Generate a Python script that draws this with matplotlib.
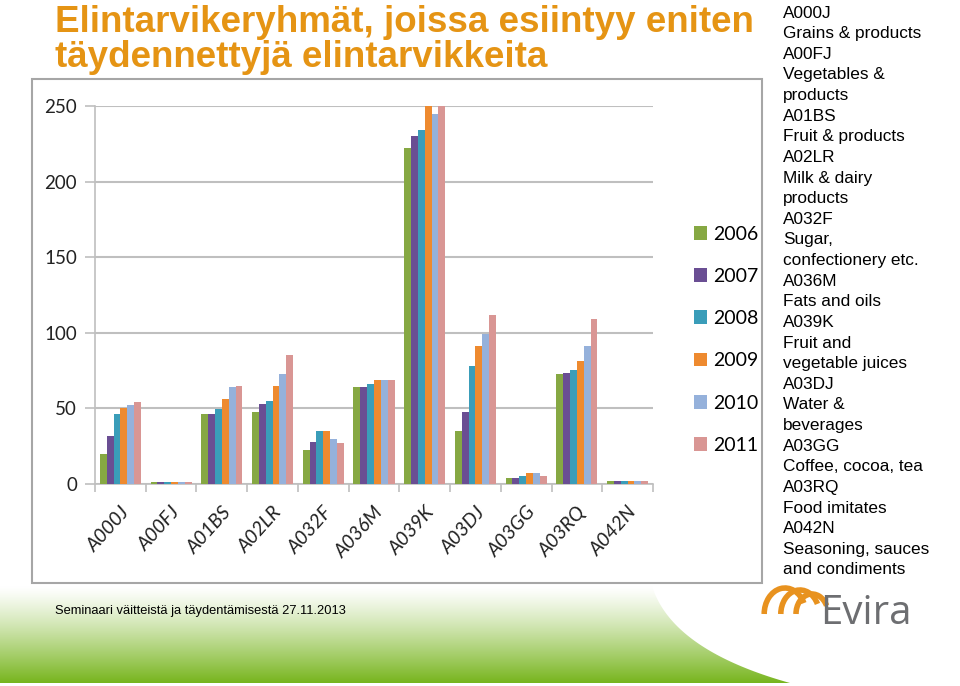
import numpy as np
import matplotlib
matplotlib.use('Agg')
import matplotlib.pyplot as plt
from matplotlib.patches import Rectangle, Polygon, Patch, Arc

# data
categories = ['A000J', 'A00FJ', 'A01BS', 'A02LR', 'A032F', 'A036M',
              'A039K', 'A03DJ', 'A03GG', 'A03RQ', 'A042N']
years = ['2006', '2007', '2008', '2009', '2010', '2011']
v2006 = [20, 1, 46, 47.5, 22.5, 64, 222, 35, 4, 73, 2]
v2007 = [32, 1, 46, 53, 27.5, 64, 230, 47.5, 4, 73.5, 2]
v2008 = [46, 1, 49.5, 55, 35, 66, 234, 78, 5.5, 75.5, 2]
v2009 = [50.5, 1, 56.5, 65, 35, 69, 250, 91, 7, 81.5, 2]
v2010 = [52, 1, 64, 73, 30, 69, 245, 99.5, 7, 91, 2]
v2011 = [54, 1, 65, 85, 27, 69, 250, 112, 5.5, 109, 2]
series = [v2006, v2007, v2008, v2009, v2010, v2011]
colours = ['#86A843', '#6A4E93', '#3A9DB9', '#EE8A2F', '#95B1DB', '#D99694']

side_notes = [
    'A000J', 'Grains & products', 'A00FJ', 'Vegetables &', 'products',
    'A01BS', 'Fruit & products', 'A02LR', 'Milk & dairy', 'products',
    'A032F', 'Sugar,', 'confectionery etc.', 'A036M', 'Fats and oils',
    'A039K', 'Fruit and', 'vegetable juices', 'A03DJ', 'Water &',
    'beverages', 'A03GG', 'Coffee, cocoa, tea', 'A03RQ', 'Food imitates',
    'A042N', 'Seasoning, sauces', 'and condiments',
]

W, H = 960, 686


def fx(px):
    return px / W


def fy(py):
    return 1 - py / H


fig = plt.figure(figsize=(9.6, 6.86), dpi=100)

# green gradient band at the bottom of the slide
bg = fig.add_axes([0, fy(683), 1, (683 - 586) / H], zorder=-5)
grad = np.linspace(0, 1, 100)[:, None]
green = np.array([0.47, 0.71, 0.12])
img = (1 - grad[..., None] ** 1.2) * 1.0 + grad[..., None] ** 1.2 * green
img = np.repeat(img, 2, axis=1)
bg.imshow(img, extent=[0, W, 683, 586], aspect='auto')
t = np.linspace(0, 1, 50)
cx = (1 - t) ** 2 * 652 + 2 * (1 - t) * t * 672 + t ** 2 * 790
cy = (1 - t) ** 2 * 586 + 2 * (1 - t) * t * 650 + t ** 2 * 683
pts = np.column_stack([np.r_[cx, W, W], np.r_[cy, 683, 586]])
bg.add_patch(Polygon(pts, closed=True, color='white', lw=0))
bg.set_xlim(0, W)
bg.set_ylim(683, 586)
bg.axis('off')

# chart frame
fig.patches.append(Rectangle((fx(32), fy(583)), (762 - 32) / W, (583 - 79) / H,
                             transform=fig.transFigure, fill=True,
                             facecolor='white', edgecolor='#A6A6A6', lw=1.5,
                             zorder=-1))

ax = fig.add_axes([fx(95), fy(484), (653 - 95) / W, (484 - 106) / H])
x = np.arange(len(categories))
w = 0.135
for j, (vals, col) in enumerate(zip(series, colours)):
    ax.bar(x + (j - 2.5) * w, vals, width=w, color=col, zorder=3,
           label=years[j])

ax.set_xlim(-0.5, len(categories) - 0.5)
ax.set_ylim(0, 250)
ax.set_yticks([0, 50, 100, 150, 200, 250])
ax.yaxis.grid(True, color='#BFBFBF', lw=1.5, zorder=0)
for s in ['top', 'right']:
    ax.spines[s].set_visible(False)
for s in ['left', 'bottom']:
    ax.spines[s].set_color('#BFBFBF')
    ax.spines[s].set_linewidth(1.2)
ax.set_xticks(np.arange(len(categories) + 1) - 0.5)
ax.set_xticklabels([])
ax.set_xticks(x, minor=True)
ax.set_xticklabels(categories, minor=True, rotation=48, ha='right',
                   rotation_mode='anchor', fontsize=14, family='Lato',
                   style='italic', color='#222222')
ax.tick_params(axis='x', which='major', length=6, color='#BFBFBF', width=1.2)
ax.tick_params(axis='x', which='minor', length=0, pad=14)
ax.tick_params(axis='y', length=7, color='#BFBFBF', width=1.2,
               labelsize=13.5, labelcolor='#222222', pad=6)
for lab in ax.get_yticklabels():
    lab.set_family('Lato')
ax.set_facecolor('none')

handles = [Patch(facecolor=c, edgecolor='none') for c in colours]
fig.legend(handles, years, loc='upper left',
           bbox_to_anchor=(fx(676), fy(208)), frameon=False,
           prop={'family': 'Lato', 'size': 14}, labelspacing=1.3,
           handlelength=0.7, handleheight=0.7, handletextpad=0.3)

# title
fig.text(fx(55), fy(32), 'Elintarvikeryhmät, joissa esiintyy eniten',
         color='#E59414', fontsize=26.5, weight='bold', family='Liberation Sans',
         va='baseline', ha='left')
fig.text(fx(55), fy(67), 'täydennettyjä elintarvikkeita',
         color='#E59414', fontsize=26.5, weight='bold', family='Liberation Sans',
         va='baseline', ha='left')

# category explanations
step = (570 - 13) / (len(side_notes) - 1)
for i, line in enumerate(side_notes):
    fig.text(fx(783), fy(13 + i * step), line, fontsize=12.4,
             family='Liberation Sans', va='center', ha='left', color='black')

fig.text(fx(55), fy(611), 'Seminaari väitteistä ja täydentämisestä 27.11.2013',
         fontsize=9.3, family='Liberation Sans', va='center', ha='left',
         color='black')

# Evira logo
logo = fig.add_axes([fx(745), fy(640), (915 - 745) / W, (640 - 582) / H])
logo.set_xlim(745, 915)
logo.set_ylim(640, 582)
for cxl, rad in [(785, 26), (800, 24), (812, 20)]:
    logo.add_patch(Arc((cxl, 614), rad * 1.6, rad * 2, theta1=180, theta2=330,
                       color='#E8921F', lw=4))
logo.text(820, 614, 'Evira', fontsize=29, color='#6D6E71',
          family='Open Sans', va='center', ha='left')
logo.axis('off')

fig.savefig('out.png', dpi=100)
